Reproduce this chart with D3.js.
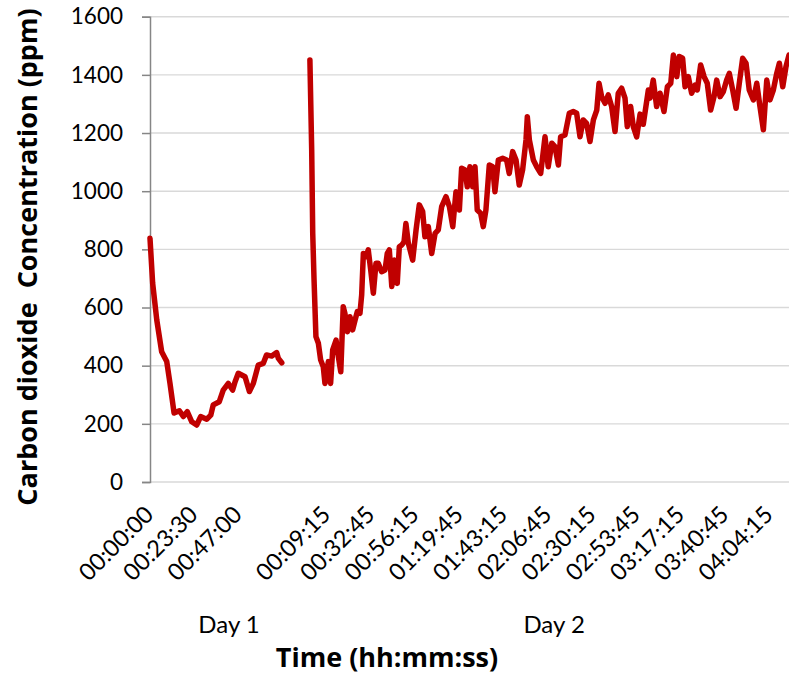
<!DOCTYPE html>
<html>
<head>
<meta charset="utf-8">
<script src="https://cdn.jsdelivr.net/npm/d3@7"></script>
<style>
    body { margin: 0; background: #fff; }
    svg { display: block; font-family: Lato, "Open Sans", sans-serif; }
</style>
</head>
<body>
<div id="co2-chart"></div>
<script>
// Day 1 readings (minutes since start, ppm)
var day1Minutes = [0, 1.4, 3.6, 6.2, 8.9, 10.6, 12.8, 15.6, 17.7, 19.8, 22.2, 24.8, 26.9, 30.1, 32.3, 33.6,
    36.8, 38.9, 41.6, 43.9, 45.2, 46.9, 50.5, 52.8, 54.9, 57.5, 60.2, 61.9, 64.7, 67.3, 68.2, 70];
var day1Ppm = [838, 684, 557, 448, 414, 340, 237, 245, 225, 242, 207, 196, 225, 216, 230, 265,
    276, 316, 339, 316, 345, 374, 362, 311, 339, 402, 408, 437, 433, 445, 425, 410];

// Day 2 readings (minutes since start, ppm)
var day2Minutes = [0.2, 1.15, 1.7, 2.4, 3.4, 4.7, 5.9, 7.3, 8.2, 10.0, 11.2, 12.3, 14.1, 15.3, 16.6, 17.9,
    18.8, 20.1, 21.5, 22.9, 24.2, 25.4, 26.8, 27.7, 28.6, 30.0, 31.2, 32.5, 33.9, 35.3, 36.5, 38.3,
    40.1, 41.3, 42.4, 43.7, 45.0, 46.6, 47.7, 49.0, 50.2, 51.2, 52.5, 54.8, 56.6, 58.3, 60.1, 61.3,
    63.1, 64.9, 66.7, 68.4, 70.2, 72.5, 74.3, 76.1, 77.8, 79.6, 80.8, 82.6, 83.8, 85.2, 86.7, 87.9,
    89.1, 90.9, 92.3, 93.7, 95.5, 97.3, 98.5, 100.3, 102.6, 104.7, 106.1, 107.9, 109.7, 111.4, 113.2, 115.0,
    115.7, 116.8, 118.9, 120.7, 122.8, 125.1, 126.8, 128.7, 130.4, 132.2, 133.4, 135.7, 138.0, 140.1, 141.9, 143.7,
    145.4, 147.2, 149.0, 150.8, 152.6, 153.8, 155.2, 157.0, 158.7, 160.5, 162.3, 164.0, 165.8, 167.6, 168.8, 170.6,
    172.0, 173.8, 175.6, 177.3, 180.0, 180.9, 182.6, 184.4, 186.2, 188.3, 190.1, 191.9, 193.3, 195.1, 196.4, 198.2,
    199.5, 201.2, 203.0, 204.8, 206.0, 207.8, 209.6, 211.3, 213.1, 214.9, 216.3, 218.1, 219.8, 221.6, 223.0, 224.8,
    226.6, 228.3, 230.1, 231.9, 233.6, 235.8, 237.6, 239.3, 241.1, 242.9, 244.6, 246.4, 248.2, 249.6, 251.4, 253.1, 254.7];
var day2Ppm = [1451, 1142, 855, 695, 500, 477, 420, 396, 339, 414, 339, 454, 488, 431, 379, 603,
    580, 517, 568, 523, 557, 586, 580, 643, 786, 775, 798, 729, 649, 752, 752, 723,
    729, 786, 798, 672, 763, 683, 809, 815, 826, 889, 821, 763, 867, 953, 930, 843,
    878, 786, 855, 867, 947, 981, 947, 878, 998, 935, 1079, 1073, 1015, 1084, 1015, 1084,
    935, 924, 878, 935, 1090, 1084, 998, 1107, 1113, 1107, 1061, 1136, 1107, 1021, 1073, 1176,
    1256, 1176, 1107, 1084, 1061, 1187, 1084, 1165, 1153, 1090, 1187, 1193, 1268, 1274, 1268, 1187,
    1245, 1233, 1171, 1245, 1279, 1371, 1325, 1302, 1331, 1291, 1205, 1337, 1354, 1320, 1222, 1291,
    1222, 1187, 1265, 1230, 1348, 1320, 1382, 1291, 1337, 1274, 1359, 1371, 1468, 1394, 1463, 1457,
    1359, 1394, 1337, 1365, 1348, 1434, 1394, 1371, 1279, 1325, 1382, 1325, 1342, 1382, 1405, 1348,
    1285, 1371, 1457, 1440, 1348, 1314, 1371, 1291, 1211, 1382, 1314, 1348, 1405, 1440, 1359, 1428, 1468];

// Tick labels shown under the axis
var day1TickLabels = ["00:00:00", "00:23:30", "00:47:00"];
var day2TickLabels = ["00:09:15", "00:32:45", "00:56:15", "01:19:45", "01:43:15", "02:06:45",
    "02:30:15", "02:53:45", "03:17:15", "03:40:45", "04:04:15"];
var yTicks = [0, 200, 400, 600, 800, 1000, 1200, 1400, 1600];

// Day 2 is placed after Day 1 on the shared category axis (in minutes)
var day2Start = 84.75;

function toMinutes(s) {
    var p = s.split(":").map(Number);
    return p[0] * 60 + p[1] + p[2] / 60;
}

var width = 789, height = 675;
var margin = {left: 150, right: -1, top: 16.7, bottom: 193};
var plotW = width - margin.left - margin.right;
var plotH = height - margin.top - margin.bottom;

var svg = d3.select("#co2-chart").append("svg")
    .attr("width", width)
    .attr("height", height);

var chart = svg.append("g")
    .attr("transform", "translate(" + margin.left + "," + margin.top + ")");

var x = d3.scaleLinear().domain([0, 340]).range([0, plotW]);
var y = d3.scaleLinear().domain([0, 1600]).range([plotH, 0]);

// Gridlines
chart.append("g")
    .selectAll("line")
    .data(yTicks)
    .enter()
    .append("line")
    .attr("x1", 0)
    .attr("x2", plotW + 2)
    .attr("y1", function (d) { return y(d); })
    .attr("y2", function (d) { return y(d); })
    .attr("stroke", "#d9d9d9")
    .attr("stroke-width", 1.4);

// Y axis
var yAxis = d3.axisLeft(y)
    .tickValues(yTicks)
    .tickFormat(d3.format("d"))
    .tickSize(8)
    .tickPadding(19);
var yg = chart.append("g").call(yAxis);
yg.select(".domain").attr("stroke", "#868686").attr("stroke-width", 1.5);
yg.selectAll(".tick line").attr("stroke", "#868686").attr("stroke-width", 1.5);
yg.selectAll("text")
    .attr("fill", "#000")
    .style("font-size", "22.5px")
    .style("font-family", "Lato, sans-serif");

// X tick labels, rotated
var xTicks = day1TickLabels.map(function (s) { return {label: s, pos: toMinutes(s)}; })
    .concat(day2TickLabels.map(function (s) { return {label: s, pos: toMinutes(s) + day2Start}; }));

chart.append("g")
    .selectAll("text")
    .data(xTicks)
    .enter()
    .append("text")
    .attr("transform", function (d) {
        return "translate(" + (x(d.pos) + 5) + "," + (plotH + 34) + ") rotate(-45)";
    })
    .attr("text-anchor", "end")
    .style("font-size", "23.5px")
    .text(function (d) { return d.label; });

// Day labels
chart.append("text")
    .attr("x", x(42))
    .attr("y", plotH + 151)
    .attr("text-anchor", "middle")
    .style("font-size", "24px")
    .text("Day 1");
chart.append("text")
    .attr("x", x(214.7))
    .attr("y", plotH + 151)
    .attr("text-anchor", "middle")
    .style("font-size", "24px")
    .text("Day 2");

// Axis titles
svg.append("text")
    .attr("x", 387)
    .attr("y", 667)
    .attr("text-anchor", "middle")
    .style("font-family", "'Open Sans', sans-serif")
    .style("font-size", "27px")
    .style("font-weight", "bold")
    .text("Time (hh:mm:ss)");

svg.append("text")
    .attr("transform", "translate(37,257) rotate(-90)")
    .attr("text-anchor", "middle")
    .style("font-family", "'Open Sans', sans-serif")
    .style("font-size", "27px")
    .style("font-weight", "bold")
    .text("Carbon dioxide\u00a0 Concentration (ppm)");

// The two days as separate lines
var line = d3.line()
    .x(function (d) { return x(d[0]); })
    .y(function (d) { return y(d[1]); });

var day1 = day1Minutes.map(function (m, i) { return [m, day1Ppm[i]]; });
var day2 = day2Minutes.map(function (m, i) { return [m + day2Start, day2Ppm[i]]; });

chart.selectAll("path.series")
    .data([day1, day2])
    .enter()
    .append("path")
    .classed("series", true)
    .attr("d", line)
    .attr("fill", "none")
    .attr("stroke", "#c00000")
    .attr("stroke-width", 5.5)
    .attr("stroke-linejoin", "round")
    .attr("stroke-linecap", "round");
</script>
</body>
</html>
